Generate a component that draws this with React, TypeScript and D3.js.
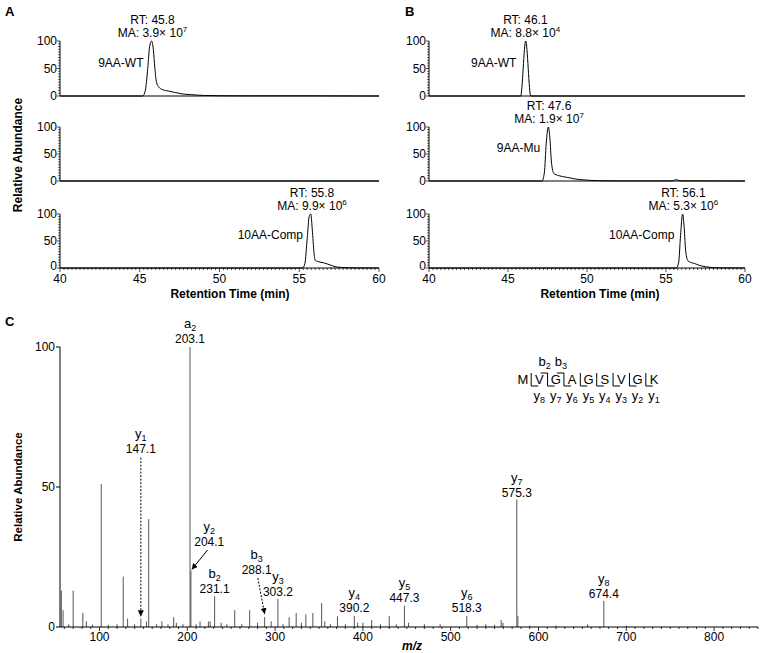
import React from "react";
import * as d3 from "d3";

const FONT = "'Liberation Sans', Arial, Helvetica, sans-serif";

// ---- chromatograms (retention time in min, relative abundance in %)
const rtTicks = [40, 45, 50, 55, 60];
const abundTicks = [0, 50, 100];

const aWtTime = [40, 45.18, 45.35, 45.5, 45.62, 45.75, 45.85, 45.95, 46.05, 46.2, 46.4, 46.8, 47.2, 47.6, 48.2, 49, 50, 52, 56, 60];
const aWtInt = [0, 0, 10, 50, 90, 100, 85, 50, 25, 16, 12, 9, 6.5, 4, 2.5, 1, 0.5, 0.3, 0.3, 0];
const aMuTime = [40, 60];
const aMuInt = [0, 0];
const aCompTime = [40, 55.2, 55.35, 55.5, 55.62, 55.72, 55.82, 55.92, 56.0, 56.3, 56.6, 57.0, 57.3, 57.8, 58.5, 60];
const aCompInt = [0, 0, 8, 55, 95, 100, 70, 30, 14, 11, 9, 5, 2, 0.8, 0.2, 0];

const bWtTime = [40, 45.8, 46.12, 46.44, 60];
const bWtInt = [0, 0, 100, 0, 0];
const bMuTime = [40, 47.15, 47.3, 47.42, 47.55, 47.65, 47.75, 47.9, 48.2, 48.7, 49.2, 49.6, 50.2, 50.8, 52, 55.4, 55.65, 55.9, 60];
const bMuInt = [0, 0, 15, 70, 100, 80, 35, 14, 10, 7, 4, 2.5, 1.2, 0.5, 0.2, 0.2, 2.5, 0.3, 0];
const bCompTime = [40, 55.65, 55.8, 55.92, 56.05, 56.15, 56.25, 56.4, 56.6, 56.8, 57.0, 57.3, 57.8, 58.3, 60];
const bCompInt = [0, 0, 10, 60, 100, 75, 30, 13, 10, 8.5, 6, 3.5, 1.2, 0.3, 0];

const namesA = ["9AA-WT", "", "10AA-Comp"];
const rtA = [45.8, NaN, 55.8];
const maA = ["3.9", "", "9.9"];
const expA = ["7", "", "6"];
const namesB = ["9AA-WT", "9AA-Mu", "10AA-Comp"];
const rtB = [46.1, 47.6, 56.1];
const maB = ["8.8", "1.9", "5.3"];
const expB = ["4", "7", "6"];

// ---- MS/MS spectrum
const mzTicks = [100, 200, 300, 400, 500, 600, 700, 800];
const mzValues = [56.5, 58.5, 65, 70, 81, 85, 92, 102, 110, 120, 127, 132, 140, 147.1, 153.5, 156, 165, 171, 178, 184.5, 187.5, 195, 203.1, 204.1, 210, 214.5, 224, 226, 231.1, 238.5, 245, 254, 262, 271, 280, 288.1, 295.5, 303.2, 309, 316, 324, 330, 335, 343, 353, 356.5, 363, 371, 380, 390.2, 394, 400, 410, 420, 430, 438, 447.3, 452, 470, 488, 518.3, 530, 540, 550, 557.5, 559.5, 575.3, 576.5, 590, 620, 656, 674.4, 700];
const relAbund = [13, 6, 1, 13, 5, 2, 0.8, 51, 0.8, 1, 18, 3, 1, 3, 2, 38.5, 1, 2, 1, 3.5, 1.5, 1, 100, 20, 1, 2, 2, 2, 11, 1.5, 1, 6, 1, 6, 1.5, 3.5, 2, 10, 1, 3.5, 5, 1.5, 4.5, 5, 8.5, 2, 1, 3.8, 1, 4, 1.5, 1.5, 2.5, 1, 4, 1, 7.6, 1.5, 1, 1, 4, 0.8, 1, 0.8, 2.5, 1.5, 45.5, 4, 0.5, 0.5, 1, 9.3, 0.5];

const ionType = ["a", "y", "y", "b", "b", "y", "y", "y", "y", "y", "y"];
const ionNum = ["2", "1", "2", "2", "3", "3", "4", "5", "6", "7", "8"];
const ionMz = [203.1, 147.1, 204.1, 231.1, 288.1, 303.2, 390.2, 447.3, 518.3, 575.3, 674.4];
// label anchor in data units (m/z, abundance of the number baseline); arrow when label is displaced
const ionLabelMz = [203.1, 147.1, 225, 231.1, 279, 303.2, 390.2, 447.3, 518.3, 575.3, 674.4];
const ionLabelAb = [101.5, 62, 29, 12, 19, 11, 5.5, 9, 5.5, 46.5, 10.3];
const ionArrow = ["", "dash", "solid", "", "dash", "", "", "", "", "", ""];
const arrowFromMz = [0, 147.1, 223, 0, 280.3, 0, 0, 0, 0, 0, 0];
const arrowFromAb = [0, 60.5, 27.5, 0, 17.5, 0, 0, 0, 0, 0, 0];
const arrowToMz = [0, 147.1, 205, 0, 288.1, 0, 0, 0, 0, 0, 0];
const arrowToAb = [0, 3.8, 20.5, 0, 4.6, 0, 0, 0, 0, 0, 0];

const peptide = ["M", "V", "G", "A", "G", "S", "V", "G", "K"];
const yIons = ["8", "7", "6", "5", "4", "3", "2", "1"];
const bIons = ["2", "3"];

const rows = [
  { top: 41, bottom: 96 },
  { top: 127, bottom: 181 },
  { top: 214, bottom: 268 },
];

function Chrom({ left, right, top, bottom, time, intensity, axis, name, rt, ma, exp }: any) {
  const x = d3.scaleLinear().domain([40, 60]).range([left, right]);
  const y = d3.scaleLinear().domain([0, 100]).range([bottom, top]);
  const line = d3
    .line<number>()
    .x((_, i) => x(time[i]))
    .y((d) => y(d))
    .curve(d3.curveMonotoneX);
  const minorY = d3.range(0, 101, 5);
  const minorX = d3.range(40, 60.001, 0.25);
  return (
    <g>
      <line x1={left} x2={left} y1={top} y2={bottom} stroke="#000" />
      {minorY.map((v) => (
        <line key={"my" + v} x1={left - (v % 50 === 0 ? 3 : 1.8)} x2={left} y1={y(v)} y2={y(v)} stroke="#000" strokeWidth={0.7} />
      ))}
      {abundTicks.map((v) => (
        <text key={"ty" + v} x={left - 3} y={y(v) + (axis && v === 0 ? 2 : 4)} textAnchor="end" fontSize={12}>
          {v}
        </text>
      ))}
      <line x1={left} x2={right} y1={bottom} y2={bottom} stroke="#000" />
      {axis &&
        minorX.map((v) => {
          const major = rtTicks.some((t) => Math.abs(t - v) < 1e-6);
          return <line key={"mx" + v} x1={x(v)} x2={x(v)} y1={bottom} y2={bottom + (major ? 4 : 2)} stroke="#000" strokeWidth={0.7} />;
        })}
      {axis &&
        rtTicks.map((t) => (
          <text key={"tx" + t} x={x(t)} y={bottom + 15} textAnchor="middle" fontSize={12}>
            {t}
          </text>
        ))}
      <path d={line(intensity) || ""} fill="none" stroke="#000" strokeWidth={1} />
      {name && (
        <text x={x(rt) - 9} y={y(53)} textAnchor="end" fontSize={12}>
          {name}
        </text>
      )}
      {ma && (
        <g fontSize={12} textAnchor="middle">
          <text x={x(rt)} y={y(100) - 17}>RT: {rt}</text>
          <text x={x(rt)} y={y(100) - 4}>
            <tspan>MA: {ma}× 10</tspan>
            <tspan dy={-5} fontSize={8}>
              {exp}
            </tspan>
          </text>
        </g>
      )}
    </g>
  );
}

function Spectrum() {
  const left = 60, right = 758, top = 347, bottom = 627;
  const x = d3.scaleLinear().domain([55, 850]).range([left, right]);
  const y = d3.scaleLinear().domain([0, 100]).range([bottom, top]);
  const minor = d3.range(60, 851, 10);
  const seqX = d3.scalePoint<number>().domain(d3.range(peptide.length)).range([523, 654]);
  const bounds = d3.range(peptide.length - 1).map((i) => (seqX(i)! + seqX(i + 1)!) / 2);
  return (
    <g>
      <defs>
        <marker id="arr" viewBox="0 0 10 10" refX="10" refY="5" markerWidth="6" markerHeight="6" orient="auto">
          <path d="M0,0 L10,5 L0,10 z" fill="#000" />
        </marker>
      </defs>
      {mzValues.map((m, i) => (
        <line key={"p" + i} x1={x(m)} x2={x(m)} y1={y(0)} y2={y(relAbund[i])} stroke="#555" strokeWidth={1} />
      ))}
      <line x1={left} x2={left} y1={top} y2={bottom} stroke="#000" />
      {abundTicks.map((v) => (
        <g key={"cy" + v}>
          <line x1={left - 4} x2={left} y1={y(v)} y2={y(v)} stroke="#000" />
          <text x={left - 5} y={y(v) + 4} textAnchor="end" fontSize={12}>
            {v}
          </text>
        </g>
      ))}
      <line x1={left} x2={right} y1={bottom} y2={bottom} stroke="#000" />
      {minor.map((m) => (
        <line key={"cm" + m} x1={x(m)} x2={x(m)} y1={bottom} y2={bottom + (m % 100 === 0 ? 4 : 2)} stroke="#000" strokeWidth={0.8} />
      ))}
      {mzTicks.map((m) => (
        <text key={"cx" + m} x={x(m)} y={bottom + 14} textAnchor="middle" fontSize={12}>
          {m}
        </text>
      ))}
      <text x={(left + right) / 2 + 3} y={650} textAnchor="middle" fontSize={12} fontWeight="bold" fontStyle="italic">
        m/z
      </text>
      <text transform={`translate(22,${(top + bottom) / 2}) rotate(-90)`} textAnchor="middle" fontSize={11.5} fontWeight="bold">
        Relative Abundance
      </text>

      {ionMz.map((m, i) => {
        const lx = x(ionLabelMz[i]);
        const ly = y(ionLabelAb[i]);
        return (
          <g key={"ion" + i}>
            <text x={lx} y={ly - 15} textAnchor="middle" fontSize={13}>
              {ionType[i]}
              <tspan fontSize={9} dy={3}>
                {ionNum[i]}
              </tspan>
            </text>
            <text x={lx} y={ly} textAnchor="middle" fontSize={12}>
              {m.toFixed(1)}
            </text>
            {ionArrow[i] && (
              <line
                x1={x(arrowFromMz[i])}
                y1={y(arrowFromAb[i])}
                x2={x(arrowToMz[i])}
                y2={y(arrowToAb[i])}
                stroke="#000"
                strokeWidth={1}
                strokeDasharray={ionArrow[i] === "dash" ? "2,1.5" : undefined}
                markerEnd="url(#arr)"
              />
            )}
          </g>
        );
      })}

      {peptide.map((p, i) => (
        <text key={"aa" + i} x={seqX(i)} y={384} textAnchor="middle" fontSize={13}>
          {p}
        </text>
      ))}
      {bounds.map((bx, i) => (
        <path key={"yb" + i} d={`M${bx},373 V386 H${bx + 7}`} fill="none" stroke="#000" strokeWidth={1} />
      ))}
      {bIons.map((b, i) => (
        <g key={"bi" + i}>
          <path d={`M${bounds[i + 1] - 7},373 H${bounds[i + 1]}`} fill="none" stroke="#000" strokeWidth={1} />
          <text x={bounds[i + 1] - 3} y={366} textAnchor="middle" fontSize={13}>
            b<tspan fontSize={9} dy={3}>{b}</tspan>
          </text>
        </g>
      ))}
      {yIons.map((n, i) => (
        <text key={"yl" + i} x={seqX(i + 1)} y={400} textAnchor="middle" fontSize={13}>
          y<tspan fontSize={9} dy={3}>{n}</tspan>
        </text>
      ))}
    </g>
  );
}

export default function App() {
  const tracesA = [
    [aWtTime, aWtInt],
    [aMuTime, aMuInt],
    [aCompTime, aCompInt],
  ];
  const tracesB = [
    [bWtTime, bWtInt],
    [bMuTime, bMuInt],
    [bCompTime, bCompInt],
  ];
  return (
    <svg width={764} height={653} style={{ position: "absolute", left: 0, top: 0, background: "#fff" }} fontFamily={FONT}>
      <rect width={764} height={653} fill="#fff" />
      <text x={5} y={16} fontSize={13} fontWeight="bold">A</text>
      <text x={405} y={16} fontSize={13} fontWeight="bold">B</text>
      <text x={5} y={326} fontSize={13} fontWeight="bold">C</text>
      {rows.map((r, i) => (
        <Chrom
          key={"a" + i}
          left={60}
          right={379}
          top={r.top}
          bottom={r.bottom}
          time={tracesA[i][0]}
          intensity={tracesA[i][1]}
          axis={i === 2}
          name={namesA[i]}
          rt={rtA[i]}
          ma={maA[i]}
          exp={expA[i]}
        />
      ))}
      {rows.map((r, i) => (
        <Chrom
          key={"b" + i}
          left={429}
          right={745}
          top={r.top}
          bottom={r.bottom}
          time={tracesB[i][0]}
          intensity={tracesB[i][1]}
          axis={i === 2}
          name={namesB[i]}
          rt={rtB[i]}
          ma={maB[i]}
          exp={expB[i]}
        />
      ))}
      <text x={230} y={298} textAnchor="middle" fontSize={12} fontWeight="bold">Retention Time (min)</text>
      <text x={600} y={298} textAnchor="middle" fontSize={12} fontWeight="bold">Retention Time (min)</text>
      <text transform="translate(22,155) rotate(-90)" textAnchor="middle" fontSize={12} fontWeight="bold">
        Relative Abundance
      </text>
      <Spectrum />
    </svg>
  );
}
